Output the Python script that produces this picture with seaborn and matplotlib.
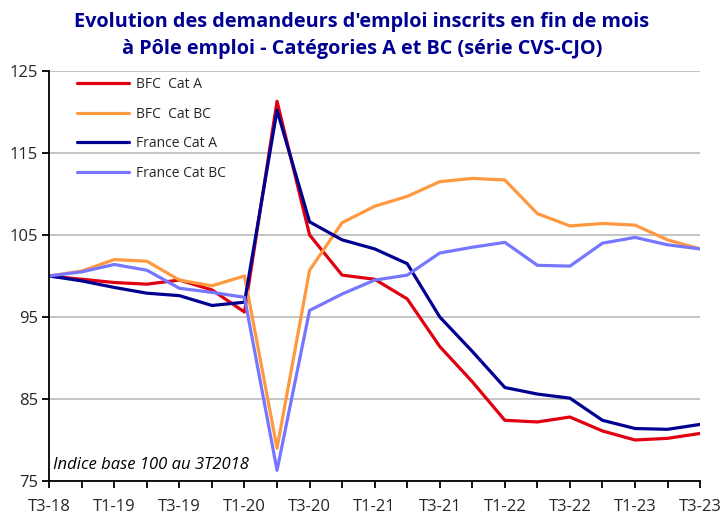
import pandas
import seaborn
import matplotlib.pyplot as plt

quarters = ['T3-18', 'T4-18', 'T1-19', 'T2-19', 'T3-19', 'T4-19', 'T1-20', 'T2-20',
            'T3-20', 'T4-20', 'T1-21', 'T2-21', 'T3-21', 'T4-21', 'T1-22', 'T2-22',
            'T3-22', 'T4-22', 'T1-23', 'T2-23', 'T3-23']

bfc_cat_a = [100.0, 99.6, 99.2, 99.0, 99.5, 98.3, 95.6, 121.3, 105.0, 100.1, 99.6,
             97.2, 91.4, 87.1, 82.4, 82.2, 82.8, 81.1, 80.0, 80.2, 80.8]
bfc_cat_bc = [100.0, 100.6, 102.0, 101.8, 99.5, 98.8, 100.0, 79.0, 100.7, 106.5, 108.5,
              109.7, 111.5, 111.9, 111.7, 107.6, 106.1, 106.4, 106.2, 104.4, 103.3]
france_cat_a = [100.0, 99.4, 98.6, 97.9, 97.6, 96.4, 96.8, 120.2, 106.6, 104.4, 103.3,
                101.5, 95.0, 90.8, 86.4, 85.6, 85.1, 82.4, 81.4, 81.3, 81.9]
france_cat_bc = [100.0, 100.5, 101.4, 100.7, 98.5, 98.0, 97.4, 76.3, 95.8, 97.8, 99.5,
                 100.1, 102.8, 103.5, 104.1, 101.3, 101.2, 104.0, 104.7, 103.8, 103.3]

series = {
    'BFC  Cat A': bfc_cat_a,
    'BFC  Cat BC': bfc_cat_bc,
    'France Cat A': france_cat_a,
    'France Cat BC': france_cat_bc,
}
palette = {
    'BFC  Cat A': '#e1000f',
    'BFC  Cat BC': '#ff9940',
    'France Cat A': '#000091',
    'France Cat BC': '#7676ff',
}

rows = []
for name, values in series.items():
    for i, v in enumerate(values):
        rows.append([i, name, v])
df = pandas.DataFrame(rows, columns=['pos', 'serie', 'indice'])

seaborn.set_style('white')
plt.rcParams['font.family'] = ['Open Sans', 'DejaVu Sans']

fig = plt.figure(figsize=(7.24, 5.14), dpi=100)
ax = fig.add_axes([0.068, 0.0642, 0.899, 0.7978])

seaborn.lineplot(data=df, x='pos', y='indice', hue='serie', palette=palette,
                 linewidth=2.3, ax=ax)

ax.set_xlim(0, len(quarters) - 1)
ax.set_ylim(75, 125)
ax.set_yticks([75, 85, 95, 105, 115, 125])
ax.set_xticks(range(len(quarters)))
ax.set_xticklabels([q if i % 2 == 0 else '' for i, q in enumerate(quarters)])
ax.set_xlabel('')
ax.set_ylabel('')
ax.yaxis.grid(True, color='#bfbfbf', linewidth=1.3)
ax.set_axisbelow(True)
for side in ['top', 'right']:
    ax.spines[side].set_visible(False)
for side in ['left', 'bottom']:
    ax.spines[side].set_color('black')
    ax.spines[side].set_linewidth(1.3)
ax.tick_params(axis='both', which='both', direction='out', length=5, width=1.3,
               color='black', labelsize=12, bottom=True, left=True)
ax.tick_params(axis='x', pad=8)
ax.tick_params(axis='y', pad=3)

ax.legend(loc='upper left', bbox_to_anchor=(0.042, 0.985), frameon=False,
          fontsize=10, handlelength=3.8, labelspacing=1.05, borderpad=0,
          borderaxespad=0, handletextpad=0.45)

ax.text(0.006, 0.029, 'Indice base 100 au 3T2018', transform=ax.transAxes,
        fontsize=12, style='italic', color='black', ha='left', va='baseline')

fig.text(0.5, 0.976, "Evolution des demandeurs d'emploi inscrits en fin de mois\n"
         "à Pôle emploi - Catégories A et BC (série CVS-CJO)",
         ha='center', va='top', fontsize=14.3, fontweight='bold', color='#000091',
         linespacing=1.42)

plt.savefig('out.png', dpi=100)
